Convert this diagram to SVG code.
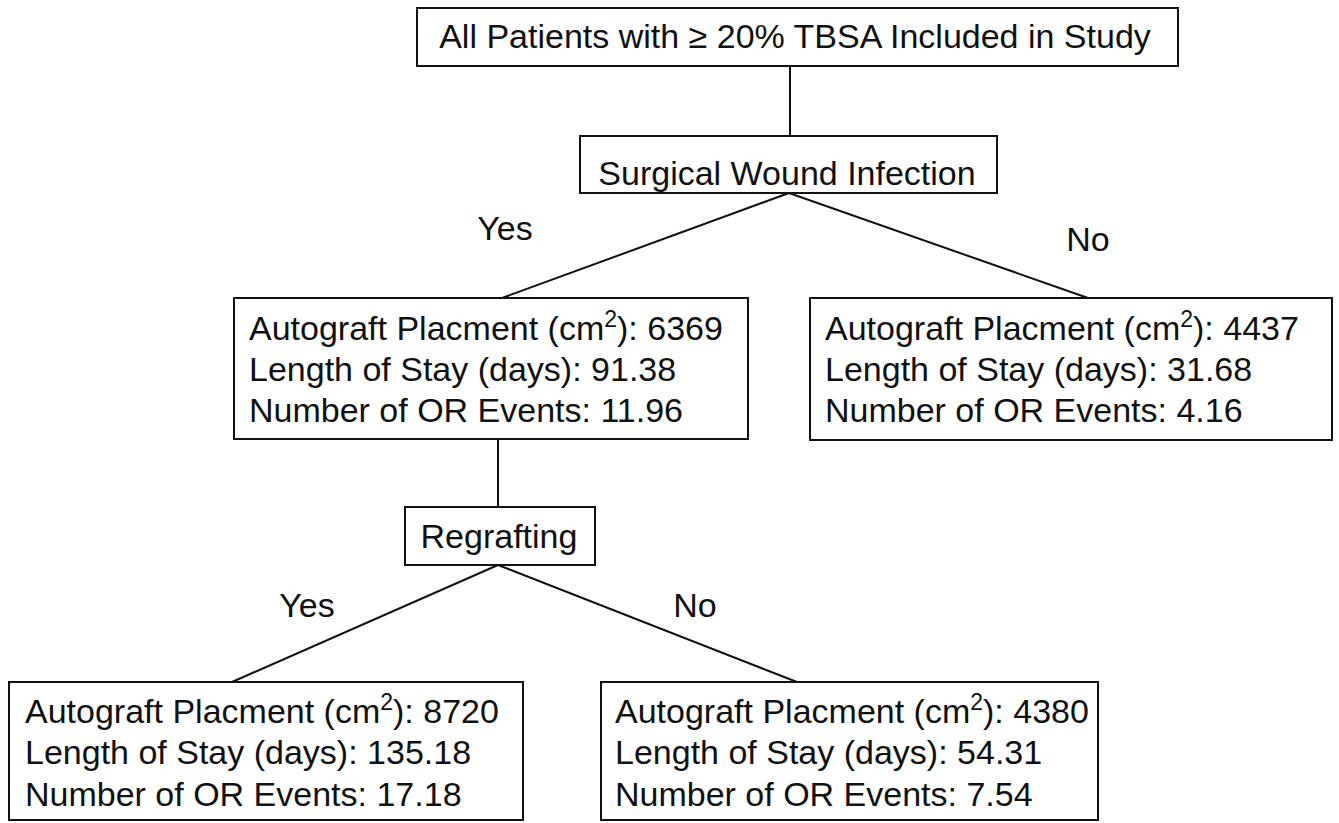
<svg xmlns="http://www.w3.org/2000/svg" width="1339" height="823" viewBox="0 0 1339 823">
<style>
  .box { fill: #fff; stroke: #111; stroke-width: 2; }
  .edge { stroke: #111; stroke-width: 2; fill: none; }
  text { font-family: "Liberation Sans", Arial, sans-serif; font-size: 34px; fill: #111; }
  .c { text-anchor: middle; }
  .sup { font-size: 23px; }
</style>
<rect width="1339" height="823" fill="#fff"/>
<g id="connectors">
  <line class="edge" x1="790" y1="66" x2="790" y2="136"/>
  <line class="edge" x1="789" y1="193" x2="502" y2="298"/>
  <line class="edge" x1="789" y1="193" x2="1088" y2="298"/>
  <line class="edge" x1="498" y1="439" x2="498" y2="507"/>
  <line class="edge" x1="498" y1="565" x2="232" y2="682"/>
  <line class="edge" x1="498" y1="565" x2="797" y2="682"/>
  <text class="c" x="505" y="240">Yes</text>
  <text class="c" x="1088" y="251">No</text>
  <text class="c" x="307" y="617">Yes</text>
  <text class="c" x="695" y="617">No</text>
</g>
<g id="root">
  <rect class="box" x="417" y="8" width="761" height="58"/>
  <text class="c" x="795" y="48">All Patients with ≥ 20% TBSA Included in Study</text>
</g>
<g id="infection">
  <rect class="box" x="580" y="136" width="417" height="57"/>
  <text class="c" x="787" y="185">Surgical Wound Infection</text>
</g>
<g id="infection-yes">
  <rect class="box" x="234" y="298" width="514" height="141"/>
  <text x="249" y="340">Autograft Placment (cm<tspan class="sup" dy="-13">2</tspan><tspan dy="13">): 6369</tspan></text>
  <text x="249" y="381">Length of Stay (days): 91.38</text>
  <text x="249" y="422">Number of OR Events: 11.96</text>
</g>
<g id="infection-no">
  <rect class="box" x="810" y="298" width="522" height="142"/>
  <text x="825" y="340">Autograft Placment (cm<tspan class="sup" dy="-13">2</tspan><tspan dy="13">): 4437</tspan></text>
  <text x="825" y="381">Length of Stay (days): 31.68</text>
  <text x="825" y="422">Number of OR Events: 4.16</text>
</g>
<g id="regrafting">
  <rect class="box" x="405" y="507" width="190" height="58"/>
  <text class="c" x="499" y="548">Regrafting</text>
</g>
<g id="regraft-yes">
  <rect class="box" x="9" y="682" width="514" height="138"/>
  <text x="25" y="723">Autograft Placment (cm<tspan class="sup" dy="-13">2</tspan><tspan dy="13">): 8720</tspan></text>
  <text x="25" y="764">Length of Stay (days): 135.18</text>
  <text x="25" y="806">Number of OR Events: 17.18</text>
</g>
<g id="regraft-no">
  <rect class="box" x="601" y="682" width="497" height="138"/>
  <text x="615" y="723">Autograft Placment (cm<tspan class="sup" dy="-13">2</tspan><tspan dy="13">): 4380</tspan></text>
  <text x="615" y="764">Length of Stay (days): 54.31</text>
  <text x="615" y="806">Number of OR Events: 7.54</text>
</g>
</svg>
